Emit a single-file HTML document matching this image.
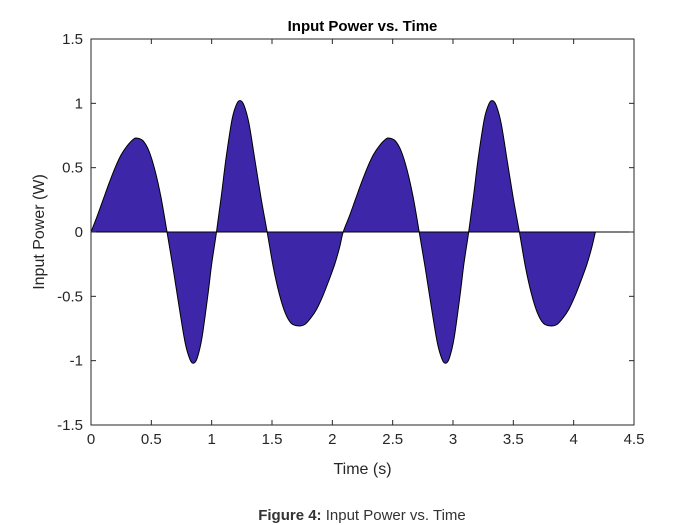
<!DOCTYPE html>
<html><head><meta charset="utf-8"><style>
html,body{margin:0;padding:0;background:#fff;}
svg{display:block;font-family:"Liberation Sans",Arial,sans-serif;}
</style></head><body>
<svg id="chart" width="700" height="525" viewBox="0 0 700 525"></svg>
<script>
const xTicks=[0,0.5,1,1.5,2,2.5,3,3.5,4,4.5];
const yTicks=[-1.5,-1,-0.5,0,0.5,1,1.5];
const xTickLabels=["0","0.5","1","1.5","2","2.5","3","3.5","4","4.5"];
const yTickLabels=["-1.5","-1","-0.5","0","0.5","1","1.5"];
const timeValues=[0,0.05,0.1,0.15,0.2,0.25,0.3,0.35,0.38,0.43,0.48,0.53,0.58,0.63,0.68,0.73,0.78,0.82,0.85,0.88,0.92,0.97,1.0,1.04,
1.08,1.12,1.17,1.21,1.24,1.27,1.31,1.36,1.41,1.46,1.51,1.56,1.61,1.66,1.72,1.77,1.82,1.87,1.92,1.97,2.02,2.06,2.09,
2.14,2.19,2.24,2.29,2.34,2.39,2.44,2.47,2.52,2.57,2.62,2.67,2.72,2.77,2.82,2.87,2.91,2.94,2.97,3.01,3.06,3.09,3.13,
3.17,3.21,3.26,3.30,3.33,3.36,3.40,3.45,3.50,3.55,3.60,3.65,3.70,3.75,3.81,3.86,3.91,3.96,4.01,4.06,4.11,4.15,4.18];
const powerValues=[0,0.12,0.25,0.38,0.50,0.60,0.67,0.72,0.73,0.71,0.63,0.48,0.27,0,-0.28,-0.58,-0.86,-0.99,-1.02,-0.98,-0.82,-0.48,-0.25,0,
0.28,0.58,0.88,1.0,1.02,0.98,0.84,0.55,0.26,0,-0.27,-0.48,-0.63,-0.71,-0.73,-0.72,-0.67,-0.60,-0.50,-0.38,-0.25,-0.12,0,
0.12,0.25,0.38,0.50,0.60,0.67,0.72,0.73,0.71,0.63,0.48,0.27,0,-0.28,-0.58,-0.86,-0.99,-1.02,-0.98,-0.82,-0.48,-0.25,0,
0.28,0.58,0.88,1.0,1.02,0.98,0.84,0.55,0.26,0,-0.27,-0.48,-0.63,-0.71,-0.73,-0.72,-0.67,-0.60,-0.50,-0.38,-0.25,-0.12,0];

const L=91,R=634,T=39,B=425;
const xs=v=>L+(v-0)/(4.5-0)*(R-L);
const ys=v=>B-(v+1.5)/3*(B-T);
const svg=document.getElementById('chart');
const NS='http://www.w3.org/2000/svg';
function mk(tag,attrs,text){const e=document.createElementNS(NS,tag);for(const k in attrs)e.setAttribute(k,attrs[k]);if(text!==undefined)e.textContent=text;svg.appendChild(e);return e;}

const bg=mk('rect',{x:L,y:T,width:R-L,height:B-T,fill:'#fff'});



const P=timeValues.map((t,i)=>[xs(t),ys(powerValues[i])]);
let d='M'+P[0][0].toFixed(2)+','+P[0][1].toFixed(2);
for(let i=0;i<P.length-1;i++){
  const p0=P[Math.max(0,i-1)],p1=P[i],p2=P[i+1],p3=P[Math.min(P.length-1,i+2)];
  const c1=[p1[0]+(p2[0]-p0[0])/6,p1[1]+(p2[1]-p0[1])/6];
  const c2=[p2[0]-(p3[0]-p1[0])/6,p2[1]-(p3[1]-p1[1])/6];
  d+=' C'+c1[0].toFixed(2)+','+c1[1].toFixed(2)+' '+c2[0].toFixed(2)+','+c2[1].toFixed(2)+' '+p2[0].toFixed(2)+','+p2[1].toFixed(2);
}
d+=' Z';
const area=mk('path',{d:d,fill:'#3D27A8',stroke:'#000','stroke-width':1,'stroke-linejoin':'round'});



const zl=mk('line',{x1:L,x2:R,y1:ys(0),y2:ys(0),stroke:'#000','stroke-width':1});



const frame=mk('rect',{x:L,y:T,width:R-L,height:B-T,fill:'none',stroke:'#262626','stroke-width':1});



xTicks.forEach((v,i)=>{
  const x=xs(v);
  mk('line',{x1:x,x2:x,y1:B,y2:B-5,stroke:'#262626'});
  mk('line',{x1:x,x2:x,y1:T,y2:T+5,stroke:'#262626'});
  const t=mk('text',{x:x,y:B+19,'text-anchor':'middle','font-size':15,fill:'#262626'},xTickLabels[i]);
  
  
});
yTicks.forEach((v,i)=>{
  const y=ys(v);
  mk('line',{x1:L,x2:L+5,y1:y,y2:y,stroke:'#262626'});
  mk('line',{x1:R,x2:R-5,y1:y,y2:y,stroke:'#262626'});
  const t=mk('text',{x:L-8,y:y+5,'text-anchor':'end','font-size':15,fill:'#262626'},yTickLabels[i]);
  
  
});
const title=mk('text',{x:(L+R)/2,y:31,'text-anchor':'middle','font-size':15,'font-weight':'bold',fill:'#000'},'Input Power vs. Time');


const xl=mk('text',{x:(L+R)/2,y:474,'text-anchor':'middle','font-size':16,fill:'#262626'},'Time (s)');


const yl=mk('text',{x:0,y:0,transform:'translate(44,'+((T+B)/2)+') rotate(-90)','text-anchor':'middle','font-size':16,fill:'#262626'},'Input Power (W)');


const cap=mk('text',{x:362,y:520,'text-anchor':'middle','font-size':15,fill:'#333'});


const b=document.createElementNS(NS,'tspan');b.setAttribute('font-weight','bold');b.textContent='Figure 4:';cap.appendChild(b);
const n=document.createElementNS(NS,'tspan');n.textContent=' Input Power vs. Time';cap.appendChild(n);
</script>
</body></html>
